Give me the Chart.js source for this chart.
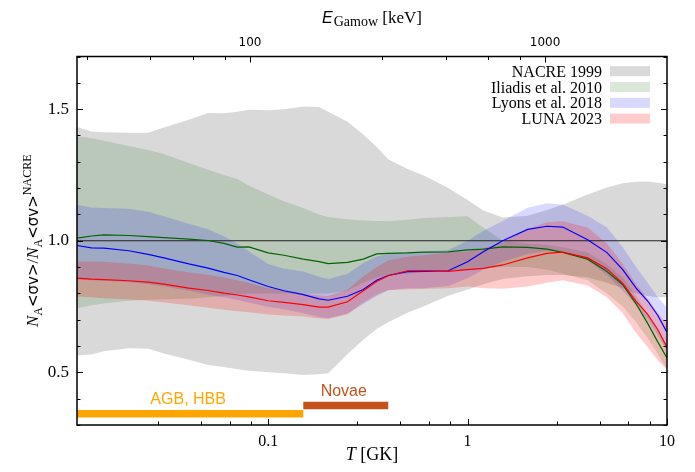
<!DOCTYPE html>
<html><head><meta charset="utf-8">
<script src="https://cdn.jsdelivr.net/npm/chart.js@4"></script>
<style>html,body{margin:0;padding:0;background:#fff}#wrap{width:695px;height:472px;position:relative}</style>
</head><body><div id="wrap"><canvas id="c" width="695" height="472"></canvas></div>
<script>
// ---------- data ----------
const T = [0.011,0.013,0.015,0.02,0.025,0.03,0.04,0.05,0.06,0.07,0.08,0.1,0.12,0.15,0.18,0.2,0.25,0.3,0.35,0.4,0.5,0.6,0.8,1.0,1.2,1.5,2,2.5,3,4,5,6,7,8,9,10];

const nacreUpper = [1.432,1.415,1.412,1.41,1.41,1.43,1.46,1.485,1.484,1.49,1.498,1.496,1.50,1.51,1.508,1.49,1.452,1.404,1.356,1.31,1.273,1.249,1.20,1.155,1.115,1.088,1.095,1.117,1.137,1.176,1.202,1.218,1.224,1.225,1.22,1.215];
const nacreLower = [0.564,0.568,0.58,0.592,0.59,0.572,0.548,0.528,0.52,0.512,0.506,0.50,0.497,0.49,0.493,0.497,0.57,0.624,0.665,0.69,0.726,0.75,0.791,0.815,0.835,0.855,0.865,0.87,0.87,0.86,0.84,0.82,0.80,0.79,0.785,0.785];

const iliadisUpper = [1.397,1.39,1.38,1.36,1.345,1.33,1.295,1.27,1.25,1.235,1.21,1.176,1.15,1.124,1.10,1.09,1.082,1.077,1.075,1.074,1.08,1.086,1.09,1.093,1.05,1.0,0.99,0.985,0.975,0.955,0.91,0.86,0.79,0.72,0.66,0.60];
const iliadisLower = [0.744,0.755,0.762,0.772,0.776,0.778,0.78,0.785,0.79,0.795,0.80,0.80,0.80,0.80,0.80,0.80,0.81,0.84,0.86,0.87,0.875,0.88,0.885,0.89,0.895,0.9,0.9,0.89,0.875,0.85,0.80,0.75,0.69,0.63,0.57,0.51];
const iliadisRate  = [1.01,1.018,1.022,1.02,1.016,1.012,1.006,1.001,0.99,0.976,0.977,0.954,0.945,0.93,0.921,0.913,0.918,0.93,0.95,0.952,0.954,0.957,0.958,0.965,0.968,0.977,0.975,0.968,0.956,0.93,0.883,0.833,0.76,0.686,0.615,0.555];

const lyonsUpper = [1.137,1.126,1.124,1.122,1.11,1.093,1.065,1.044,1.017,0.99,0.96,0.912,0.895,0.883,0.863,0.855,0.875,0.915,0.94,0.95,0.957,0.958,0.965,1.0,1.038,1.075,1.125,1.142,1.138,1.095,1.05,0.975,0.90,0.84,0.785,0.745];
const lyonsLower = [0.852,0.85,0.848,0.842,0.835,0.826,0.81,0.795,0.785,0.775,0.765,0.748,0.74,0.725,0.71,0.706,0.724,0.76,0.79,0.812,0.82,0.82,0.828,0.858,0.89,0.92,0.95,0.96,0.96,0.925,0.87,0.81,0.755,0.70,0.64,0.58];
const lyonsRate  = [0.982,0.973,0.972,0.962,0.948,0.935,0.912,0.896,0.88,0.868,0.852,0.826,0.81,0.795,0.779,0.774,0.789,0.815,0.85,0.868,0.883,0.884,0.886,0.92,0.958,1.0,1.043,1.055,1.052,1.004,0.955,0.89,0.82,0.771,0.716,0.652];

const lunaUpper = [0.921,0.921,0.92,0.914,0.906,0.895,0.88,0.871,0.86,0.85,0.84,0.82,0.812,0.801,0.792,0.79,0.815,0.865,0.9,0.925,0.94,0.945,0.955,0.959,0.972,0.993,1.045,1.07,1.074,1.05,0.99,0.913,0.835,0.78,0.725,0.685];
const lunaLower = [0.788,0.785,0.782,0.777,0.772,0.765,0.755,0.745,0.738,0.732,0.728,0.72,0.716,0.712,0.705,0.703,0.72,0.765,0.795,0.812,0.816,0.817,0.82,0.826,0.82,0.818,0.826,0.84,0.85,0.83,0.785,0.725,0.65,0.595,0.545,0.51];
const lunaRate  = [0.858,0.854,0.852,0.848,0.843,0.835,0.82,0.811,0.801,0.794,0.787,0.772,0.766,0.757,0.748,0.748,0.768,0.81,0.845,0.867,0.886,0.887,0.884,0.89,0.895,0.908,0.935,0.952,0.957,0.935,0.893,0.838,0.77,0.72,0.662,0.595];

const refT = [0.011, 10];
const refRatio = [1, 1];

const siteNames = ['AGB, HBB', 'Novae'];
const siteTmin = [0.011, 0.15];
const siteTmax = [0.15, 0.4];
const siteLevel = [0.343, 0.374];

const legendNames = ['NACRE 1999', 'Iliadis et al. 2010', 'Lyons et al. 2018', 'LUNA 2023'];

const tTicks = [0.028,0.046,0.064,0.082,0.1,0.28,0.46,0.64,0.82,1,2.8,4.6,6.4,8.2,10];
const tLabelValues = [0.1, 1, 10];
const tLabelTexts = ['0.1', '1', '10'];
const eTicks = [28,46,64,82,100,280,460,640,820,1000];
const eLabelValues = [100, 1000];
const eLabelTexts = ['100', '1000'];
const yTicks = [0.3,0.4,0.5,0.6,0.7,0.8,0.9,1.0,1.1,1.2,1.3,1.4,1.5,1.6,1.7];
const yLabelValues = [0.5, 1.0, 1.5];
const yLabelTexts = ['0.5', '1.0', '1.5'];

// ---------- styles ----------
const SERIF = "'Liberation Serif','Times New Roman',serif";
const SANS = "'Liberation Sans',Arial,sans-serif";
const DSANS = "'DejaVu Sans',sans-serif";
const C = {
  nacre: 'rgba(0,0,0,0.15)', iliadis: 'rgba(0,100,0,0.15)', lyons: 'rgba(0,0,255,0.15)', luna: 'rgba(255,0,0,0.2)',
  green: '#006400', blue: '#0000ff', red: '#ff0000', agb: '#ffa500', novae: '#c4521a'
};
const legendColors = [C.nacre, C.iliadis, C.lyons, C.luna];
const siteColors = [C.agb, C.novae];

const pts = arr => T.map((t, i) => ({x: t, y: arr[i]}));
function band(upper, lower, idxLower, color, order) {
  return [
    {data: pts(upper), fill: idxLower, backgroundColor: color, borderWidth: 0, pointRadius: 0, order},
    {data: pts(lower), fill: false, borderWidth: 0, pointRadius: 0, order}
  ];
}
const line = (arr, color, order) => ({data: pts(arr), borderColor: color, borderWidth: 1.2, pointRadius: 0, fill: false, order, tension: 0});

const datasets = [
  ...band(nacreUpper, nacreLower, 1, C.nacre, 14),
  ...band(iliadisUpper, iliadisLower, 3, C.iliadis, 13),
  ...band(lyonsUpper, lyonsLower, 5, C.lyons, 12),
  ...band(lunaUpper, lunaLower, 7, C.luna, 11),
  {data: refT.map((t, i) => ({x: t, y: refRatio[i]})), borderColor: '#222', borderWidth: 1, pointRadius: 0, fill: false, order: 5},
  line(iliadisRate, C.green, 3),
  line(lyonsRate, C.blue, 2),
  line(lunaRate, C.red, 1),
  ...siteNames.map((n, i) => ({
    data: [{x: siteTmin[i], y: siteLevel[i]}, {x: siteTmax[i], y: siteLevel[i]}],
    borderColor: siteColors[i], borderWidth: 7.5, borderCapStyle: 'butt', pointRadius: 0, fill: false, order: 0
  }))
];

function drawSegs(ctx, segs, cx, cy) {
  let total = 0;
  segs.forEach(s => { ctx.font = s.font; s.w = ctx.measureText(s.t).width; total += s.w + (s.gap || 0); });
  let x = cx - total / 2;
  ctx.textAlign = 'left'; ctx.textBaseline = 'alphabetic';
  segs.forEach(s => { ctx.font = s.font; ctx.fillText(s.t, x, cy + (s.dy || 0)); x += s.w + (s.gap || 0); });
}

const decor = {
  id: 'decor',
  afterDatasetsDraw(chart) {
    const {ctx, chartArea: a, scales} = chart;
    const {x, x2, y} = scales;
    ctx.save();
    ctx.strokeStyle = '#000';
    ctx.lineWidth = 1;
    ctx.beginPath();
    tTicks.forEach(v => {
      const px = Math.round(x.getPixelForValue(v)) + 0.5;
      const L = tLabelValues.includes(v) ? 6 : 3.5;
      ctx.moveTo(px, a.bottom); ctx.lineTo(px, a.bottom - L);
    });
    eTicks.forEach(v => {
      const px = Math.round(x2.getPixelForValue(v)) + 0.5;
      const L = eLabelValues.includes(v) ? 6 : 3.5;
      ctx.moveTo(px, a.top); ctx.lineTo(px, a.top + L);
    });
    yTicks.forEach(v => {
      const py = Math.round(y.getPixelForValue(v)) + 0.5;
      const L = yLabelValues.includes(v) ? 6 : 3.5;
      ctx.moveTo(a.left, py); ctx.lineTo(a.left + L, py);
      ctx.moveTo(a.right, py); ctx.lineTo(a.right - L, py);
    });
    ctx.stroke();
    ctx.lineWidth = 1.5;
    ctx.strokeRect(a.left, a.top, a.right - a.left, a.bottom - a.top);

    // site labels above the bars
    ctx.font = `16px ${SANS}`;
    ctx.textAlign = 'center'; ctx.textBaseline = 'alphabetic';
    siteNames.forEach((n, i) => {
      const mid = Math.sqrt(siteTmin[i] * siteTmax[i]);
      ctx.fillStyle = siteColors[i];
      ctx.fillText(n, x.getPixelForValue(mid) - 2, y.getPixelForValue(siteLevel[i]) - 9.5);
    });

    // legend
    ctx.font = `16px ${SERIF}`;
    ctx.textAlign = 'right';
    legendNames.forEach((n, i) => {
      const base = a.top + 20.2 + i * 15.8;
      ctx.fillStyle = '#000';
      ctx.fillText(n, a.right - 65, base);
      ctx.fillStyle = legendColors[i];
      ctx.fillRect(a.right - 57, base - 10.5, 40, 10);
    });

    // axis titles
    ctx.fillStyle = '#000';
    const cx = (a.left + a.right) / 2;
    drawSegs(ctx, [
      {t: 'T', font: `italic 18px ${SERIF}`, gap: 0},
      {t: ' [GK]', font: `18px ${SERIF}`}
    ], cx, 460);
    drawSegs(ctx, [
      {t: 'E', font: `italic 16px ${SANS}`, gap: 1},
      {t: 'Gamow', font: `14px ${SERIF}`, dy: 3.5},
      {t: ' [keV]', font: `17px ${SERIF}`}
    ], cx, 22.5);

    ctx.translate(37.5, (a.top + a.bottom) / 2);
    ctx.rotate(-Math.PI / 2);
    drawSegs(ctx, [
      {t: 'N', font: `italic 17px ${SERIF}`},
      {t: 'A', font: `12px ${SERIF}`, dy: 4},
      {t: '<σv>', font: `15px ${DSANS}`},
      {t: '/', font: `17px ${SERIF}`},
      {t: 'N', font: `italic 17px ${SERIF}`},
      {t: 'A', font: `12px ${SERIF}`, dy: 4},
      {t: '<σv>', font: `15px ${DSANS}`},
      {t: 'NACRE', font: `12px ${SERIF}`, dy: -7}
    ], 0, 0);
    ctx.restore();
  }
};

const labelFrom = (vals, texts) => v => {
  const i = vals.findIndex(u => Math.abs(u - v) / u < 1e-6);
  return i >= 0 ? texts[i] : '';
};
const noGrid = {display: false, drawTicks: false, tickLength: 0};

new Chart(document.getElementById('c'), {
  type: 'line',
  data: {datasets},
  plugins: [decor],
  options: {
    responsive: false,
    animation: false,
    layout: {padding: {left: 0, right: 28, top: 0, bottom: 0}},
    plugins: {legend: {display: false}, tooltip: {enabled: false}, filler: {drawTime: 'beforeDatasetsDraw'}},
    scales: {
      x: {
        type: 'logarithmic', position: 'bottom', min: 0.011, max: 10,
        grid: noGrid, border: {display: false},
        afterBuildTicks: s => { s.ticks = tTicks.map(v => ({value: v})); },
        afterFit: s => { s.height = 47; },
        ticks: {autoSkip: false, maxRotation: 0, padding: 7, color: '#000', font: {family: SERIF, size: 16},
          callback: labelFrom(tLabelValues, tLabelTexts)}
      },
      x2: {
        type: 'logarithmic', position: 'top', min: 25.93, max: 2590,
        grid: noGrid, border: {display: false},
        afterBuildTicks: s => { s.ticks = eTicks.map(v => ({value: v})); },
        afterFit: s => { s.height = 56.5; },
        ticks: {autoSkip: false, maxRotation: 0, padding: 6, color: '#000', font: {family: DSANS, size: 12},
          callback: labelFrom(eLabelValues, eLabelTexts)}
      },
      y: {
        type: 'linear', min: 0.3, max: 1.7,
        grid: noGrid, border: {display: false},
        afterBuildTicks: s => { s.ticks = yTicks.map(v => ({value: v})); },
        afterFit: s => { s.width = 77; },
        ticks: {autoSkip: false, padding: 8, color: '#000', font: {family: SERIF, size: 17},
          callback: labelFrom(yLabelValues, yLabelTexts)}
      }
    }
  }
});
</script>
</body></html>
